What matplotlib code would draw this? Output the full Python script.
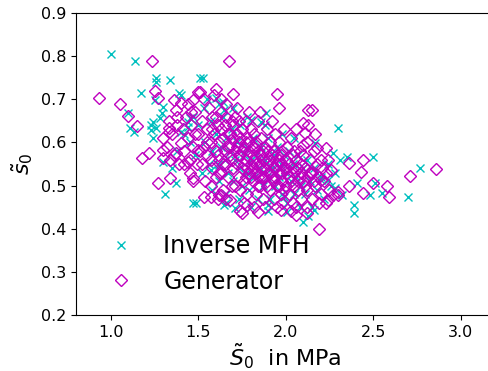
import matplotlib
matplotlib.use("Agg")
import matplotlib.pyplot as plt
import numpy as np

# Inverse MFH results (S0 in MPa, s0)
inv_x = [1.00, 1.14, 1.26, 1.26, 1.34, 1.17, 1.39, 1.25, 1.30, 1.29, 1.28, 1.24,
         1.10, 1.11, 1.45, 1.44, 1.40, 1.51, 1.525, 1.60, 1.64, 1.53, 1.885, 1.645,
         1.80, 1.86, 2.30, 2.17, 2.27, 2.35, 2.31, 2.50, 2.77, 2.24, 2.20, 2.28,
         2.41, 2.51, 2.48, 2.55, 2.70, 2.39, 2.39, 2.16, 2.32, 1.47, 1.645, 1.90,
         2.01, 2.10, 1.99, 1.31, 1.37, 1.485, 1.66, 1.71, 1.23, 1.13, 1.24, 1.23,
         1.26, 1.30, 1.40, 1.44, 1.62, 1.57,
         1.45, 1.48, 1.50, 1.52, 1.54, 1.56, 1.57, 1.58, 1.60, 1.61, 1.62, 1.63,
         1.64, 1.65, 1.66, 1.67, 1.68, 1.69, 1.70, 1.71, 1.72, 1.73, 1.74, 1.75,
         1.76, 1.77, 1.78, 1.79, 1.80, 1.81, 1.82, 1.83, 1.84, 1.85, 1.86, 1.87,
         1.88, 1.89, 1.90, 1.91, 1.92, 1.93, 1.94, 1.95, 1.96, 1.97, 1.98, 1.99,
         2.00, 2.01, 2.02, 2.03, 2.04, 2.05, 2.06, 2.07, 2.08, 2.09, 2.10, 2.11,
         2.12, 2.14, 2.15, 2.16, 2.18, 2.20, 2.22, 2.24, 2.26, 2.28, 2.05, 1.98,
         1.88, 1.78, 1.70, 1.62, 1.55, 1.47, 1.42, 1.38, 1.35, 1.58, 1.66, 1.73,
         1.80, 1.90, 2.13]
inv_y = [0.805, 0.789, 0.749, 0.740, 0.745, 0.714, 0.714, 0.698, 0.682, 0.668, 0.656, 0.647,
         0.668, 0.633, 0.656, 0.636, 0.710, 0.749, 0.749, 0.703, 0.694, 0.680, 0.668, 0.675,
         0.652, 0.647, 0.633, 0.598, 0.575, 0.566, 0.559, 0.566, 0.540, 0.512, 0.512, 0.494,
         0.505, 0.505, 0.478, 0.482, 0.473, 0.455, 0.436, 0.443, 0.478, 0.459, 0.455, 0.455,
         0.438, 0.415, 0.473, 0.480, 0.505, 0.459, 0.459, 0.447, 0.640, 0.624, 0.610, 0.629,
         0.633, 0.554, 0.624, 0.647, 0.547, 0.535,
         0.60, 0.57, 0.64, 0.53, 0.60, 0.55, 0.65, 0.58, 0.62, 0.55, 0.51, 0.59,
         0.66, 0.56, 0.61, 0.53, 0.58, 0.63, 0.51, 0.56, 0.60, 0.54, 0.64, 0.50,
         0.57, 0.53, 0.59, 0.49, 0.56, 0.61, 0.52, 0.57, 0.47, 0.54, 0.59, 0.50,
         0.56, 0.52, 0.61, 0.47, 0.54, 0.57, 0.50, 0.59, 0.52, 0.55, 0.48, 0.57,
         0.53, 0.46, 0.58, 0.51, 0.55, 0.48, 0.52, 0.57, 0.45, 0.50, 0.54, 0.48,
         0.56, 0.51, 0.45, 0.54, 0.49, 0.52, 0.47, 0.55, 0.50, 0.53, 0.61, 0.62,
         0.64, 0.66, 0.68, 0.69, 0.70, 0.66, 0.62, 0.58, 0.54, 0.49, 0.48, 0.47,
         0.45, 0.44, 0.43]

# Generator samples
gen_x = [0.93, 1.05, 1.10, 1.15, 1.236, 1.674, 1.25, 1.27, 1.36, 1.40, 1.37, 1.47,
         1.50, 1.46, 1.33, 1.22, 1.18, 1.27, 1.34, 1.33, 1.38, 1.30, 1.30, 1.30,
         1.34, 1.37, 1.44, 1.40, 1.47, 1.50, 1.70, 1.95, 1.96, 2.10, 2.13, 1.60,
         1.51, 2.15, 2.11, 2.10, 2.18, 2.23, 2.20, 2.26, 2.36, 2.44, 2.43, 2.86,
         2.71, 2.58, 2.59, 2.44, 2.36, 2.50, 2.30, 2.27, 2.23, 2.12, 2.20, 2.14,
         2.19, 1.75, 1.84, 1.78, 1.97, 2.06, 2.12, 1.63, 1.68, 1.57, 2.24, 2.30,
         1.53, 1.62,
         1.50, 1.52, 1.53, 1.55, 1.55, 1.56, 1.57, 1.58, 1.58, 1.59, 1.60, 1.60,
         1.52, 1.54, 1.57, 1.51, 1.53, 1.59,
         1.61, 1.62, 1.62, 1.63, 1.63, 1.64, 1.64, 1.65, 1.65, 1.66, 1.66, 1.67,
         1.67, 1.68, 1.68, 1.69, 1.69, 1.70, 1.70, 1.61, 1.66, 1.63,
         1.71, 1.71, 1.72, 1.72, 1.73, 1.73, 1.74, 1.74, 1.75, 1.75, 1.76, 1.76,
         1.77, 1.77, 1.78, 1.78, 1.79, 1.79, 1.80, 1.80, 1.72, 1.76, 1.74, 1.79,
         1.71, 1.77, 1.73, 1.78,
         1.81, 1.81, 1.82, 1.82, 1.83, 1.83, 1.84, 1.84, 1.85, 1.85, 1.86, 1.86,
         1.87, 1.87, 1.88, 1.88, 1.89, 1.89, 1.90, 1.90, 1.82, 1.85, 1.88, 1.84,
         1.86, 1.81, 1.83, 1.87,
         1.91, 1.91, 1.92, 1.92, 1.93, 1.93, 1.94, 1.94, 1.95, 1.95, 1.96, 1.96,
         1.97, 1.97, 1.98, 1.98, 1.99, 1.99, 2.00, 2.00, 1.92, 1.95, 1.98, 1.93,
         1.96,
         2.01, 2.01, 2.02, 2.02, 2.03, 2.03, 2.04, 2.04, 2.05, 2.05, 2.06, 2.06,
         2.07, 2.07, 2.08, 2.08, 2.09, 2.09, 2.10, 2.10, 2.03, 2.06,
         2.11, 2.12, 2.12, 2.13, 2.14, 2.15, 2.15, 2.16, 2.17, 2.18, 2.19, 2.20,
         2.21, 2.22, 2.24, 2.25, 2.13, 2.17, 2.23, 2.19,
         1.41, 1.42, 1.43, 1.44, 1.45, 1.46, 1.47, 1.48, 1.49, 1.45, 1.48, 1.42,
         1.47, 1.44,
         1.32, 1.35, 1.36, 1.38, 1.39, 1.33,
         1.55, 1.58, 1.61, 1.64, 1.67, 1.69, 1.70, 1.72, 1.74, 1.75, 1.76, 1.77,
         1.78, 1.79, 1.80, 1.81, 1.82, 1.83, 1.84, 1.85, 1.86, 1.87, 1.88, 1.89,
         1.90, 1.91, 1.92, 1.93, 1.94, 1.95, 1.96, 1.97, 1.98, 1.99, 2.00, 2.02,
         2.04, 2.05, 2.07, 2.09, 2.11, 2.14, 2.16, 1.73, 1.66, 1.60, 1.63, 1.68,
         1.57, 1.62]
gen_y = [0.703, 0.689, 0.661, 0.638, 0.789, 0.789, 0.719, 0.703, 0.698, 0.691, 0.675, 0.698,
         0.717, 0.670, 0.633, 0.575, 0.564, 0.506, 0.517, 0.624, 0.640, 0.610, 0.582, 0.564,
         0.559, 0.575, 0.554, 0.598, 0.517, 0.582, 0.712, 0.712, 0.680, 0.645, 0.675, 0.724,
         0.717, 0.675, 0.622, 0.594, 0.587, 0.587, 0.559, 0.536, 0.552, 0.559, 0.531, 0.538,
         0.522, 0.500, 0.473, 0.482, 0.500, 0.505, 0.485, 0.478, 0.459, 0.450, 0.512, 0.531,
         0.400, 0.436, 0.438, 0.455, 0.443, 0.431, 0.436, 0.478, 0.466, 0.473, 0.466, 0.478,
         0.473, 0.478,
         0.62, 0.65, 0.59, 0.57, 0.63, 0.68, 0.60, 0.54, 0.66, 0.62, 0.58, 0.52,
         0.55, 0.51, 0.50, 0.58, 0.70, 0.71,
         0.64, 0.60, 0.56, 0.67, 0.53, 0.61, 0.49, 0.58, 0.64, 0.55, 0.69, 0.52,
         0.62, 0.59, 0.57, 0.65, 0.50, 0.61, 0.54, 0.47, 0.47, 0.70,
         0.58, 0.66, 0.55, 0.62, 0.52, 0.60, 0.57, 0.49, 0.63, 0.54, 0.59, 0.51,
         0.56, 0.65, 0.61, 0.48, 0.53, 0.58, 0.55, 0.63, 0.68, 0.46, 0.44, 0.67,
         0.50, 0.60, 0.57, 0.54,
         0.59, 0.51, 0.56, 0.62, 0.53, 0.48, 0.58, 0.65, 0.55, 0.50, 0.61, 0.57,
         0.52, 0.47, 0.59, 0.54, 0.63, 0.50, 0.56, 0.53, 0.45, 0.67, 0.45, 0.52,
         0.54, 0.54, 0.60, 0.56,
         0.60, 0.49, 0.55, 0.52, 0.58, 0.47, 0.62, 0.54, 0.50, 0.57, 0.53, 0.60,
         0.48, 0.55, 0.51, 0.58, 0.54, 0.63, 0.50, 0.56, 0.65, 0.45, 0.46, 0.51,
         0.56,
         0.53, 0.59, 0.48, 0.55, 0.51, 0.61, 0.57, 0.46, 0.53, 0.50, 0.56, 0.63,
         0.49, 0.54, 0.52, 0.58, 0.47, 0.55, 0.51, 0.57, 0.44, 0.45,
         0.54, 0.49, 0.60, 0.52, 0.56, 0.47, 0.53, 0.58, 0.50, 0.55, 0.52, 0.48,
         0.54, 0.51, 0.56, 0.49, 0.64, 0.62, 0.53, 0.46,
         0.63, 0.58, 0.66, 0.61, 0.56, 0.64, 0.59, 0.67, 0.55, 0.53, 0.62, 0.55,
         0.51, 0.69,
         0.59, 0.62, 0.57, 0.66, 0.55, 0.65,
         0.60, 0.63, 0.57, 0.55, 0.59, 0.56, 0.64, 0.59, 0.61, 0.58, 0.55, 0.52,
         0.57, 0.60, 0.52, 0.57, 0.59, 0.55, 0.50, 0.57, 0.52, 0.58, 0.52, 0.55,
         0.58, 0.53, 0.57, 0.54, 0.52, 0.55, 0.50, 0.57, 0.53, 0.49, 0.54, 0.52,
         0.54, 0.58, 0.51, 0.53, 0.50, 0.53, 0.51, 0.65, 0.66, 0.66, 0.63, 0.62,
         0.56, 0.53]

fig = plt.figure(figsize=(4.88, 3.71), dpi=100)
ax = fig.add_axes([76 / 488, 56 / 371, 419.5 / 488, 302 / 371])

ax.plot(inv_x, inv_y, "x", color="c", markersize=6, label="Inverse MFH")
ax.plot(gen_x, gen_y, "D", color="m", mfc="none", markersize=6, label="Generator")

ax.set_xlim(0.8, 3.2)
ax.set_ylim(0.2, 0.9)
ax.set_xticks([1.0, 1.5, 2.0, 2.5, 3.0])
ax.set_yticks(np.arange(0.2, 0.91, 0.1))
ax.tick_params(labelsize=11.5)
ax.set_xlabel(r"$\tilde{S}_0$  in MPa", fontsize=16, labelpad=1)
ax.set_ylabel(r"$\tilde{s}_0$", fontsize=16)

ax.legend(loc="lower left", frameon=False, fontsize=17, numpoints=1,
          bbox_to_anchor=(0.0, 0.0))

fig.savefig("out.png", dpi=100)
